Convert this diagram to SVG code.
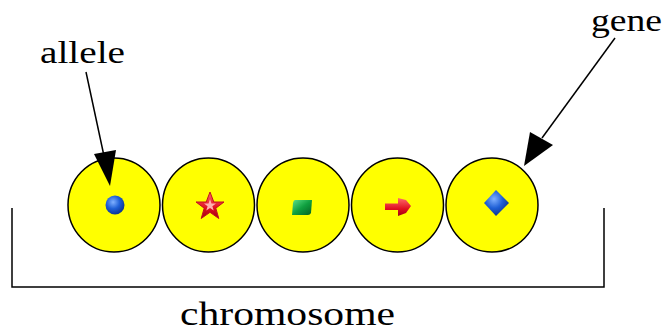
<svg xmlns="http://www.w3.org/2000/svg" width="666" height="332" viewBox="0 0 666 332">
<defs>
<style>
.cell{fill:#ffff00;stroke:#000;stroke-width:1.5}
.lbl{font-family:"Liberation Serif","Times New Roman",serif;fill:#000}
.conn{stroke:#000;stroke-width:1.5;fill:none}
.head{fill:#000}
</style>
<radialGradient id="blueG" cx="0.4" cy="0.35" r="0.7">
<stop offset="0" stop-color="#7fb0ff"/><stop offset="0.5" stop-color="#1f5fd6"/><stop offset="1" stop-color="#0a2f8a"/>
</radialGradient>
<linearGradient id="greenG" x1="0" y1="0" x2="1" y2="1">
<stop offset="0" stop-color="#5fe08a"/><stop offset="0.5" stop-color="#10a040"/><stop offset="1" stop-color="#056020"/>
</linearGradient>
<linearGradient id="redG" x1="0" y1="0" x2="0" y2="1">
<stop offset="0" stop-color="#ff6a6a"/><stop offset="0.6" stop-color="#e01020"/><stop offset="1" stop-color="#a00010"/>
</linearGradient>
</defs>

<g id="bracket">
<path class="conn" d="M12,208 L12,287 L604,287 L604,208"/>
</g>

<g id="cell1">
<ellipse class="cell" cx="114" cy="205" rx="46" ry="47"/>
<circle cx="115" cy="205" r="9.5" fill="url(#blueG)"/>
</g>
<g id="cell2">
<ellipse class="cell" cx="208.5" cy="205" rx="46" ry="47"/>
<polygon points="210,192 213.8,202 224,202 215.8,208.2 218.8,218.5 210,212.3 201.2,218.5 204.2,208.2 196,202 206.2,202" fill="url(#redG)" stroke="#c01020" stroke-width="1"/>
<polygon points="210,199 211.5,203.5 216,203.5 212.4,206.3 213.7,210.5 210,208 206.3,210.5 207.6,206.3 204,203.5 208.5,203.5" fill="#ffb0b0"/>
</g>
<g id="cell3">
<ellipse class="cell" cx="303" cy="205" rx="46" ry="47"/>
<path d="M295,200 L312,200 L311,213 Q310,215 308,215 L292,215 L293,203 Q293.5,200 295,200 z" fill="url(#greenG)"/>
</g>
<g id="cell4">
<ellipse class="cell" cx="397.5" cy="205" rx="46" ry="47"/>
<path d="M385,203.5 L398,203.5 L398,198 L406,200 L411,206 L406,213 L398,216 L398,210 L385,210 z" fill="url(#redG)"/>
</g>
<g id="cell5">
<ellipse class="cell" cx="492" cy="205" rx="46" ry="47"/>
<path d="M496,190 L509,203 L496,216 L484,203 z" fill="url(#blueG)"/>
</g>

<g id="connectors">
<line class="conn" x1="86" y1="72" x2="104" y2="156"/>
<polygon class="head" points="110,186 94,154 116,150"/>
<line class="conn" x1="615" y1="38" x2="542" y2="138"/>
<polygon class="head" points="524,166 530,132 553,145"/>
</g>

<g id="labels">
<text class="lbl" x="40" y="63" font-size="32" textLength="85" lengthAdjust="spacingAndGlyphs">allele</text>
<text class="lbl" x="591" y="31" font-size="32" textLength="71" lengthAdjust="spacingAndGlyphs">gene</text>
<text class="lbl" x="180" y="325" font-size="34" textLength="215" lengthAdjust="spacingAndGlyphs">chromosome</text>
</g>
</svg>
